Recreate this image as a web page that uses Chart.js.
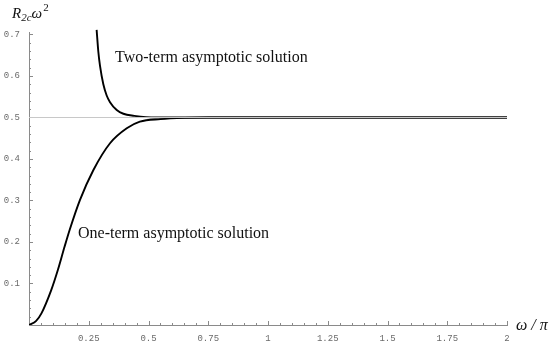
<!DOCTYPE html>
<html>
<head>
<meta charset="utf-8">
<script src="https://cdn.jsdelivr.net/npm/chart.js@4"></script>
<style>
  html, body { margin: 0; padding: 0; background: #fff; }
  #wrap { width: 550px; height: 345px; position: relative; }
</style>
</head>
<body>
<div id="wrap"><canvas id="chart"></canvas></div>
<script>
// values (x = omega/pi, y = R_2c * omega^2)
const oneTermX = [0, 0.03, 0.052, 0.093, 0.121, 0.149, 0.17, 0.213, 0.269, 0.339, 0.409, 0.464, 0.55, 0.65, 0.75, 1, 1.5, 2];
const oneTermY = [0, 0.01, 0.028, 0.084, 0.133, 0.189, 0.229, 0.301, 0.373, 0.438, 0.474, 0.49, 0.496, 0.499, 0.5, 0.5, 0.5, 0.5];

const twoTermX = [0.283, 0.29, 0.297, 0.311, 0.325, 0.339, 0.367, 0.395, 0.44, 0.49, 0.6, 0.75, 1, 1.5, 2];
const twoTermY = [0.711, 0.659, 0.625, 0.58, 0.553, 0.537, 0.518, 0.509, 0.504, 0.501, 0.5, 0.5, 0.5, 0.5, 0.5];

const limitX = [0, 2];
const limitY = [0.5, 0.5];

const xTickValues = [0.25, 0.5, 0.75, 1, 1.25, 1.5, 1.75, 2];
const xTickLabels = ['0.25', '0.5', '0.75', '1', '1.25', '1.5', '1.75', '2'];
const yTickValues = [0.1, 0.2, 0.3, 0.4, 0.5, 0.6, 0.7];
const yTickLabels = ['0.1', '0.2', '0.3', '0.4', '0.5', '0.6', '0.7'];

const annotations = [
  { text: 'Two-term asymptotic solution', x: 0.36, y: 0.634 },
  { text: 'One-term asymptotic solution', x: 0.205, y: 0.21 },
];

const AXIS_GRAY = '#8a8a8a';
const LABEL_GRAY = '#6a6a6a';
const SERIF = '"Liberation Serif", "DejaVu Serif", serif';
const MONO = '"Liberation Mono", "DejaVu Sans Mono", monospace';

const toPoints = (xs, ys) => xs.map((x, i) => ({ x, y: ys[i] }));

// minor + major tick marks, pointing into the plot like the original
const tickMarks = {
  id: 'tickMarks',
  beforeDatasetsDraw(chart) {
    const { ctx, scales: { x, y } } = chart;
    ctx.save();
    ctx.strokeStyle = AXIS_GRAY;
    ctx.lineWidth = 1;
    ctx.beginPath();
    for (let i = 1; i <= 40; i++) {
      const px = Math.round(x.getPixelForValue(i * 0.05)) + 0.5;
      const len = i % 5 === 0 ? 4 : 2;
      ctx.moveTo(px, y.bottom);
      ctx.lineTo(px, y.bottom - len);
    }
    for (let i = 1; i <= 35; i++) {
      const py = Math.round(y.getPixelForValue(i * 0.02)) + 0.5;
      const len = i % 5 === 0 ? 4 : 2;
      ctx.moveTo(x.left, py);
      ctx.lineTo(x.left + len, py);
    }
    ctx.stroke();
    ctx.restore();
  },
};

// axis titles and curve captions
const captions = {
  id: 'captions',
  afterDraw(chart) {
    const { ctx, scales: { x, y }, chartArea } = chart;
    ctx.save();
    ctx.fillStyle = '#111';
    ctx.textBaseline = 'alphabetic';
    ctx.textAlign = 'left';

    ctx.font = '16px ' + SERIF;
    annotations.forEach((a) => {
      ctx.fillText(a.text, x.getPixelForValue(a.x), y.getPixelForValue(a.y));
    });

    // R_{2c} omega^2
    let cx = 12;
    const by = 18;
    ctx.font = 'italic 15px ' + SERIF;
    ctx.fillText('R', cx, by);
    cx += ctx.measureText('R').width;
    ctx.font = 'italic 11px ' + SERIF;
    ctx.fillText('2c', cx, by + 3);
    cx += ctx.measureText('2c').width;
    ctx.font = 'italic 15px ' + SERIF;
    ctx.fillText('ω', cx, by);
    cx += ctx.measureText('ω').width + 1;
    ctx.font = '11px ' + SERIF;
    ctx.fillText('2', cx, by - 7);

    // omega / pi
    ctx.font = 'italic 16px ' + SERIF;
    ctx.fillText('ω / π', chartArea.right + 9, chartArea.bottom + 5);
    ctx.restore();
  },
};

new Chart(document.getElementById('chart'), {
  type: 'line',
  data: {
    datasets: [
      {
        data: toPoints(limitX, limitY),
        borderColor: '#c8c8c8',
        borderWidth: 1,
        pointRadius: 0,
      },
      {
        data: toPoints(oneTermX, oneTermY),
        borderColor: '#000',
        borderWidth: 1.9,
        pointRadius: 0,
        cubicInterpolationMode: 'monotone',
      },
      {
        data: toPoints(twoTermX, twoTermY),
        borderColor: '#000',
        borderWidth: 1.9,
        pointRadius: 0,
        cubicInterpolationMode: 'monotone',
        clip: false,
      },
    ],
  },
  options: {
    responsive: true,
    maintainAspectRatio: false,
    animation: false,
    layout: { padding: { top: 32, right: 43, left: 0, bottom: 0 } },
    plugins: { legend: { display: false }, tooltip: { enabled: false } },
    scales: {
      x: {
        type: 'linear',
        min: 0,
        max: 2,
        grid: { display: false, drawTicks: false },
        border: { display: true, color: AXIS_GRAY, width: 1 },
        afterBuildTicks: (s) => { s.ticks = xTickValues.map((v) => ({ value: v })); },
        afterFit: (s) => { s.height = 20; },
        ticks: {
          autoSkip: false,
          maxRotation: 0,
          padding: 8,
          color: LABEL_GRAY,
          font: { family: MONO, size: 9 },
          callback: (v) => xTickLabels[xTickValues.indexOf(v)] ?? '',
        },
      },
      y: {
        type: 'linear',
        min: 0,
        max: 0.706,
        grid: { display: false, drawTicks: false },
        border: { display: true, color: AXIS_GRAY, width: 1 },
        afterBuildTicks: (s) => { s.ticks = yTickValues.map((v) => ({ value: v })); },
        afterFit: (s) => { s.width = 29; },
        ticks: {
          autoSkip: false,
          padding: 9,
          color: LABEL_GRAY,
          font: { family: MONO, size: 9 },
          callback: (v) => yTickLabels[yTickValues.indexOf(v)] ?? '',
        },
      },
    },
  },
  plugins: [tickMarks, captions],
});
</script>
</body>
</html>
